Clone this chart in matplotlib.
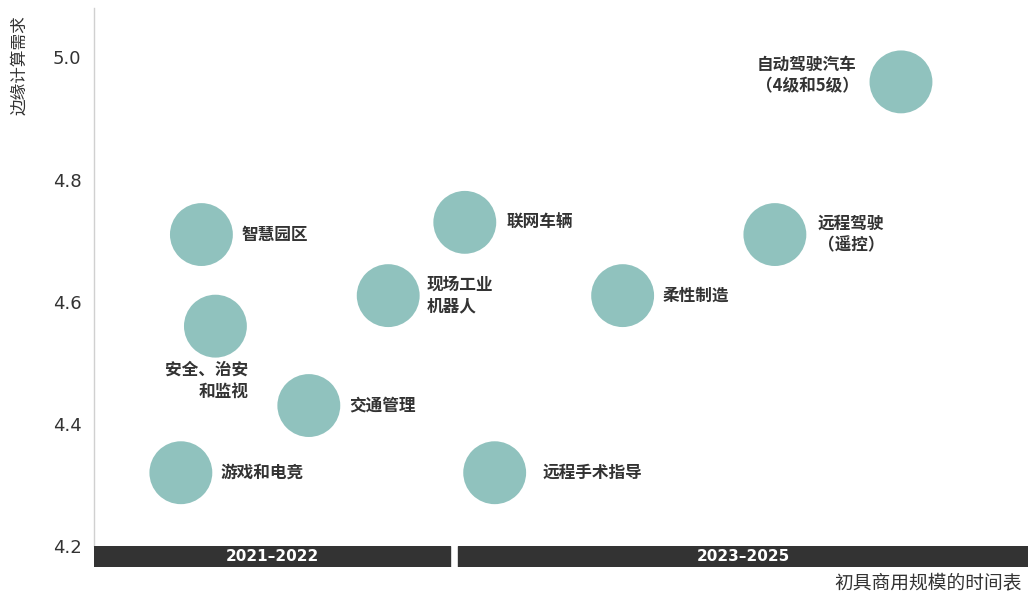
import matplotlib.pyplot as plt
from matplotlib.patches import Rectangle

plt.rcParams['font.family'] = ['Noto Sans CJK SC', 'DejaVu Sans']

# Data: position on the timeline (0-100 scale) and edge computing demand
apps = ['智慧园区', '安全、治安\n和监视', '游戏和电竞', '交通管理', '现场工业\n机器人',
        '联网车辆', '远程手术指导', '柔性制造', '远程驾驶\n（遥控）', '自动驾驶汽车\n（4级和5级）']
timeline = [11.5, 13.0, 9.3, 23.0, 31.5, 39.7, 42.9, 56.6, 72.9, 86.4]
demand = [4.71, 4.56, 4.32, 4.43, 4.61, 4.73, 4.32, 4.61, 4.71, 4.96]

# Label placement (offset in pixels, horizontal alignment, vertical alignment)
label_pos = [
    ((40, 0), 'left', 'center', 'left'),
    ((33, -35), 'right', 'top', 'right'),
    ((40, 0), 'left', 'center', 'left'),
    ((40, 0), 'left', 'center', 'left'),
    ((38, 0), 'left', 'center', 'left'),
    ((42, 0), 'left', 'center', 'left'),
    ((48, 0), 'left', 'center', 'left'),
    ((40, 0), 'left', 'center', 'left'),
    ((76, 0), 'center', 'center', 'center'),
    ((-94, 6), 'center', 'center', 'center'),
]

periods = ['2021–2022', '2023–2025']
period_start = [0, 39.0]
period_end = [38.1, 100]

BUBBLE = '#90C2BE'
TEXT = '#333333'

fig = plt.figure(figsize=(10.33, 5.94), dpi=100)
ax = fig.add_axes([94 / 1033, 48 / 594, 934 / 1033, 538 / 594])

ax.scatter(timeline, demand, s=2050, color=BUBBLE, edgecolor='none', zorder=3)

for name, x, y, (off, ha, va, ma) in zip(apps, timeline, demand, label_pos):
    ax.annotate(name, (x, y), xytext=off, textcoords='offset pixels',
                ha=ha, va=va, multialignment=ma, fontsize=12,
                fontweight='bold', color=TEXT, linespacing=1.25)

ax.set_xlim(0, 100)
ax.set_ylim(4.2, 5.081)
ax.set_yticks([4.2, 4.4, 4.6, 4.8, 5.0])
ax.set_yticklabels(['4.2', '4.4', '4.6', '4.8', '5.0'])
ax.set_xticks([])
ax.tick_params(axis='y', length=0, pad=9, labelsize=13, labelcolor=TEXT)
for lbl in ax.get_yticklabels():
    lbl.set_fontfamily('DejaVu Sans')
for side in ['top', 'right', 'bottom']:
    ax.spines[side].set_visible(False)
ax.spines['left'].set_color('#d0d0d0')
ax.spines['left'].set_linewidth(1.0)

# Period bars under the plot
bar_ax = fig.add_axes([94 / 1033, 27 / 594, 934 / 1033, 21 / 594], sharex=ax)
bar_ax.set_ylim(0, 1)
for label, start, end in zip(periods, period_start, period_end):
    bar_ax.add_patch(Rectangle((start, 0), end - start, 1, color='#333333'))
    bar_ax.text((start + end) / 2, 0.5, label, ha='center', va='center',
                color='white', fontsize=11, fontweight='bold', family='DejaVu Sans')
bar_ax.axis('off')

fig.text(20 / 1033, 1 - 15 / 594, '边缘计算需求', rotation=90, ha='center', va='top',
         fontsize=12, color=TEXT)
fig.text(1022 / 1033, 1 - 583 / 594, '初具商用规模的时间表', ha='right', va='center',
         fontsize=13.5, color=TEXT)

fig.savefig('out.png', dpi=100)
